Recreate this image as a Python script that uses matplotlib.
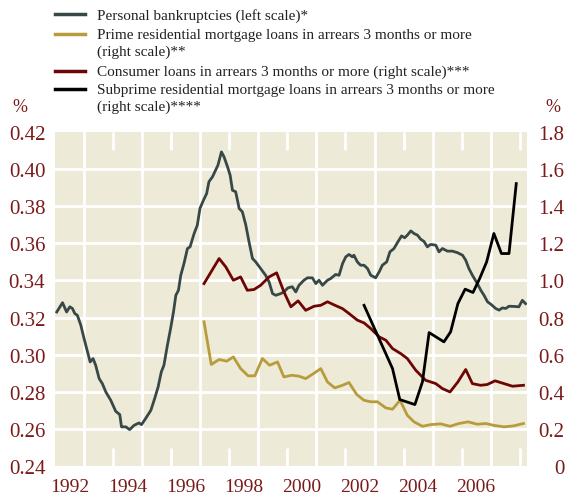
import numpy as np
import matplotlib
matplotlib.use("Agg")
import matplotlib.pyplot as plt
from matplotlib.lines import Line2D

# Personal bankruptcies, left scale (%)
bank_t = [1992.06, 1992.26, 1992.40, 1992.51, 1992.60, 1992.68, 1992.77, 1992.89, 1993.00, 1993.12,
          1993.21, 1993.31, 1993.40, 1993.52, 1993.63, 1993.75, 1993.92, 1994.09, 1994.23, 1994.29,
          1994.44, 1994.57, 1994.72, 1994.89, 1994.98, 1995.12, 1995.30, 1995.43, 1995.55, 1995.66,
          1995.75, 1995.87, 1995.98, 1996.08, 1996.16, 1996.25, 1996.33, 1996.44, 1996.56, 1996.65,
          1996.79, 1996.90, 1996.99, 1997.11, 1997.22, 1997.30, 1997.42, 1997.53, 1997.61, 1997.73,
          1997.82, 1997.94, 1998.03, 1998.11, 1998.22, 1998.34, 1998.45, 1998.57, 1998.68, 1998.80,
          1998.91, 1999.08, 1999.25, 1999.37, 1999.49, 1999.60, 1999.77, 1999.88, 2000.02, 2000.17,
          2000.29, 2000.40, 2000.57, 2000.69, 2000.86, 2000.98, 2001.09, 2001.21, 2001.38, 2001.49,
          2001.66, 2001.78, 2001.90, 2002.01, 2002.12, 2002.24, 2002.29, 2002.41, 2002.52, 2002.64,
          2002.76, 2002.87, 2003.04, 2003.16, 2003.27, 2003.42, 2003.53, 2003.67, 2003.79, 2003.93,
          2004.04, 2004.13, 2004.25, 2004.36, 2004.48, 2004.59, 2004.70, 2004.82, 2004.93, 2005.11,
          2005.22, 2005.34, 2005.51, 2005.68, 2005.85, 2006.03, 2006.14, 2006.25, 2006.37, 2006.54,
          2006.66, 2006.77, 2006.89, 2007.02, 2007.17, 2007.29, 2007.40, 2007.52, 2007.63, 2007.80,
          2007.97, 2008.09, 2008.20]
bank_v = [0.323, 0.328, 0.323, 0.3258, 0.3249, 0.3222, 0.3212, 0.3158, 0.3087, 0.3015,
          0.2961, 0.2979, 0.2943, 0.2871, 0.2844, 0.2799, 0.2754, 0.2695, 0.2677, 0.2611,
          0.2611, 0.2596, 0.2619, 0.2632, 0.2623, 0.2656, 0.2700, 0.2763, 0.2826, 0.2907,
          0.2943, 0.3051, 0.3141, 0.3231, 0.3320, 0.3347, 0.3428, 0.3491, 0.3572, 0.3581,
          0.3653, 0.3698, 0.3788, 0.3832, 0.3868, 0.3932, 0.3958, 0.3994, 0.4021, 0.4093,
          0.4066, 0.4012, 0.3967, 0.3886, 0.3878, 0.3788, 0.3770, 0.3698, 0.3608, 0.3518,
          0.3500, 0.3464, 0.3428, 0.3392, 0.3329, 0.3320, 0.3329, 0.3338, 0.3360, 0.3366,
          0.3338, 0.3374, 0.3401, 0.3414, 0.3414, 0.3383, 0.3401, 0.3374, 0.3401, 0.3410,
          0.3432, 0.3428, 0.3491, 0.3527, 0.3540, 0.3527, 0.3536, 0.3500, 0.3482, 0.3482,
          0.3464, 0.3428, 0.3414, 0.3446, 0.3482, 0.3500, 0.3554, 0.3572, 0.3604, 0.3640,
          0.3630, 0.3644, 0.3667, 0.3653, 0.3644, 0.3622, 0.3611, 0.3581, 0.3594, 0.3590,
          0.3554, 0.3572, 0.3558, 0.3558, 0.3550, 0.3536, 0.3509, 0.3464, 0.3428, 0.3383,
          0.3347, 0.3320, 0.3285, 0.3270, 0.3249, 0.3240, 0.3252, 0.3249, 0.3261, 0.3260,
          0.3258, 0.3293, 0.3275]

# Prime residential mortgage loans in arrears, right scale (%)
prime_t = [1997.13, 1997.38, 1997.65, 1997.91, 1998.14, 1998.39, 1998.65, 1998.88, 1999.14, 1999.39,
           1999.66, 1999.88, 2000.15, 2000.40, 2000.63, 2000.90, 2001.15, 2001.38, 2001.63, 2001.90,
           2002.12, 2002.39, 2002.64, 2002.87, 2003.10, 2003.39, 2003.62, 2003.88, 2004.13, 2004.36,
           2004.65, 2004.93, 2005.28, 2005.60, 2005.91, 2006.22, 2006.54, 2006.83, 2007.11, 2007.46,
           2007.78, 2008.13]
prime_v = [0.777, 0.547, 0.574, 0.565, 0.588, 0.525, 0.486, 0.486, 0.579, 0.543,
           0.561, 0.480, 0.489, 0.484, 0.471, 0.498, 0.525, 0.453, 0.421, 0.435,
           0.450, 0.385, 0.354, 0.346, 0.346, 0.313, 0.306, 0.354, 0.273, 0.238,
           0.214, 0.223, 0.227, 0.214, 0.229, 0.238, 0.225, 0.229, 0.219, 0.211,
           0.216, 0.229]

# Consumer loans in arrears, right scale (%)
cons_t = [1997.13, 1997.65, 1997.88, 1998.14, 1998.39, 1998.62, 1998.85, 1999.08, 1999.37, 1999.63,
          1999.88, 2000.12, 2000.37, 2000.63, 2000.92, 2001.15, 2001.38, 2001.64, 2001.90, 2002.12,
          2002.41, 2002.64, 2002.87, 2003.16, 2003.39, 2003.62, 2003.90, 2004.13, 2004.42, 2004.76,
          2005.11, 2005.34, 2005.60, 2005.87, 2006.14, 2006.37, 2006.65, 2006.88, 2007.15, 2007.46,
          2007.75, 2008.13]
cons_v = [0.983, 1.118, 1.073, 1.001, 1.019, 0.947, 0.951, 0.974, 1.019, 1.041,
          0.939, 0.858, 0.890, 0.839, 0.861, 0.866, 0.885, 0.866, 0.848, 0.822,
          0.786, 0.771, 0.741, 0.696, 0.678, 0.633, 0.606, 0.579, 0.516, 0.462,
          0.444, 0.417, 0.399, 0.453, 0.520, 0.444, 0.435, 0.439, 0.459, 0.444,
          0.430, 0.435]

# Subprime residential mortgage loans in arrears, right scale (%)
sub_t = [2002.64, 2003.62, 2003.87, 2004.39, 2004.65, 2004.88, 2005.39, 2005.62, 2005.87, 2006.12,
         2006.39, 2006.62, 2006.86, 2007.11, 2007.37, 2007.63, 2007.88]
sub_v = [0.866, 0.525, 0.358, 0.331, 0.453, 0.719, 0.669, 0.723, 0.875, 0.953,
         0.935, 1.010, 1.100, 1.253, 1.145, 1.145, 1.522]

year_labels = ["1992", "1994", "1996", "1998", "2000", "2002", "2004", "2006"]
left_ticks = [0.24, 0.26, 0.28, 0.30, 0.32, 0.34, 0.36, 0.38, 0.40, 0.42]
right_ticks = [0, 0.2, 0.4, 0.6, 0.8, 1.0, 1.2, 1.4, 1.6, 1.8]

labels = ["Personal bankruptcies (left scale)*",
          "Prime residential mortgage loans in arrears 3 months or more\n(right scale)**",
          "Consumer loans in arrears 3 months or more (right scale)***",
          "Subprime residential mortgage loans in arrears 3 months or more\n(right scale)****"]

BG = "#eeead8"
RED_TXT = "#7a1a1a"
C_BANK = "#374846"
C_PRIME = "#b89c3c"
C_CONS = "#6e0505"
C_SUB = "#000000"

plt.rcParams["font.family"] = ["Liberation Serif", "DejaVu Serif"]

fig = plt.figure(figsize=(5.67, 5.02), dpi=100)
ax = fig.add_axes([55 / 567, 1 - 467 / 502, 472 / 567, 334 / 502])
ax.set_facecolor(BG)
ax2 = ax.twinx()

ax.set_xlim(1992, 2008.25)
ax.set_ylim(0.24, 0.42)
ax2.set_ylim(0, 1.8)

# white grid
for v in left_ticks[1:-1]:
    ax.axhline(v, color="white", lw=2, zorder=1)
for yr in range(1993, 2008, 2):
    ax.axvline(yr, color="white", lw=2, zorder=1)

ax.plot(bank_t, bank_v, color=C_BANK, lw=2, zorder=3)
ax2.plot(prime_t, prime_v, color=C_PRIME, lw=2, zorder=3)
ax2.plot(cons_t, cons_v, color=C_CONS, lw=2, zorder=3)
ax2.plot(sub_t, sub_v, color=C_SUB, lw=2, zorder=3)

ax.set_xticks([int(y) + 0.5 for y in year_labels])
ax.set_xticklabels(year_labels)
ax.set_xticks(list(range(1994, 2009, 2)), minor=True)
ax.tick_params(axis="x", which="major", length=0, pad=9, labelsize=14, labelcolor=RED_TXT)
ax.tick_params(axis="x", which="minor", direction="in", length=13, width=2, color="white",
               top=True, bottom=True)

ax.set_yticks(left_ticks)
ax.set_yticklabels(["%.2f" % v for v in left_ticks])
ax.tick_params(axis="y", length=0, pad=7, labelsize=15, labelcolor=RED_TXT)

ax2.set_yticks(right_ticks)
ax2.set_yticklabels(["0"] + ["%.1f" % v for v in right_ticks[1:]])
ax2.tick_params(axis="y", length=0, pad=27, labelsize=15, labelcolor=RED_TXT)
for lab in ax2.get_yticklabels():
    lab.set_horizontalalignment("right")

for a in (ax, ax2):
    for s in a.spines.values():
        s.set_visible(False)

fig.text(12 / 567, 1 - 108 / 502, "%", color=RED_TXT, fontsize=13, ha="left", va="center")
fig.text(560 / 567, 1 - 108 / 502, "%", color=RED_TXT, fontsize=13, ha="right", va="center")

# legend drawn by hand so the handles line up with the first text line
rows = [15, 35, 72, 90]
for lab, c, yy in zip(labels, [C_BANK, C_PRIME, C_CONS, C_SUB], rows):
    fig.add_artist(Line2D([55 / 567, 85 / 567], [1 - yy / 502, 1 - yy / 502], color=c, lw=2.5))
    fig.text(97 / 567, 1 - (yy - 6) / 502, lab, fontsize=11, color="#222222",
             ha="left", va="top", linespacing=1.38)

fig.savefig("out.png", dpi=100)
